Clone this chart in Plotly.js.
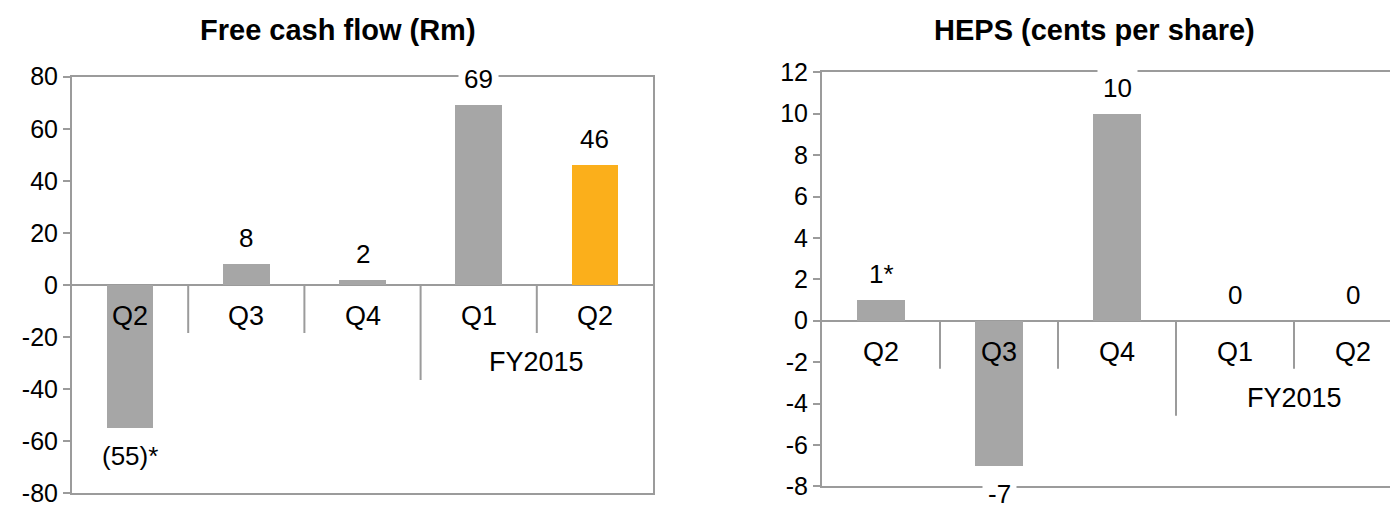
<!DOCTYPE html>
<html>
<head>
<meta charset="utf-8">
<script src="https://cdn.plot.ly/plotly-3.0.1.min.js"></script>
<style>
  html, body { margin: 0; padding: 0; overflow: hidden; background: #fff; }
  #chart { width: 1420px; height: 530px; }
</style>
</head>
<body>
<div id="chart"></div>
<script>
// ---- data ----
const quarters = ['Q2', 'Q3', 'Q4', 'Q1', 'Q2'];
const fiscalYears = ['', '', '', 'FY2015', 'FY2015'];
const fcfValues = [-55, 8, 2, 69, 46];
const fcfLabels = ['(55)*', '8', '2', '69', '46'];
const hepsValues = [1, -7, 10, 0, 0];
const hepsLabels = ['1*', '-7', '10', '0', '0'];
const fcfTicks = [-80, -60, -40, -20, 0, 20, 40, 60, 80];
const hepsTicks = [-8, -6, -4, -2, 0, 2, 4, 6, 8, 10, 12];
const fcfTitle = 'Free cash flow (Rm)';
const hepsTitle = 'HEPS (cents per share)';

// ---- styles ----
const W = 1420, H = 530;
const FONT = 'Liberation Sans, Arial, sans-serif';
const GREY_BAR = '#A6A6A6';
const ORANGE = '#FBAF1B';
const LINE = '#9B9B9B';
const idx = quarters.map((q, i) => i);
const fromTop = px => (H - px) / H;

function barTrace(values, colors, xa, ya) {
  return {
    type: 'bar', x: idx, y: values, width: 0.4,
    marker: { color: colors, line: { width: 0 } },
    xaxis: xa, yaxis: ya, hoverinfo: 'skip', showlegend: false
  };
}

const fcfColors = fcfValues.map((v, i) => i === fcfValues.length - 1 ? ORANGE : GREY_BAR);
const hepsColors = hepsValues.map(() => GREY_BAR);

const data = [
  barTrace(fcfValues, fcfColors, 'x', 'y'),
  barTrace(hepsValues, hepsColors, 'x2', 'y2')
];

function yAxis(ticks, domain, anchor) {
  const lo = ticks[0], hi = ticks[ticks.length - 1];
  return {
    domain: domain, anchor: anchor,
    range: [lo, hi],
    tickmode: 'array', tickvals: ticks, ticktext: ticks.map(String),
    ticks: 'outside', ticklen: 7, tickwidth: 2, tickcolor: LINE,
    showline: true, mirror: true, linecolor: LINE, linewidth: 2,
    showgrid: false, zeroline: true, zerolinecolor: LINE, zerolinewidth: 2,
    tickfont: { family: FONT, size: 25, color: '#000' }, fixedrange: true,
    automargin: false
  };
}
function xAxis(domain, anchor) {
  return {
    domain: domain, anchor: anchor, range: [-0.5, quarters.length - 0.5],
    showline: true, mirror: true, linecolor: LINE, linewidth: 2,
    showgrid: false, zeroline: false, showticklabels: false, ticks: '', fixedrange: true
  };
}

const annotations = [];
const shapes = [];

function decorate(values, labels, xr, yr) {
  values.forEach((v, i) => {
    annotations.push({
      xref: xr, yref: yr, x: i, y: v, text: labels[i], showarrow: false,
      yanchor: 'middle', yshift: v >= 0 ? 26 : -28,
      font: { family: FONT, size: 26, color: '#000' },
      bgcolor: '#fff', borderpad: 5
    });
    annotations.push({
      xref: xr, yref: yr, x: i, y: 0, text: quarters[i], showarrow: false,
      yanchor: 'middle', yshift: -31,
      font: { family: FONT, size: 27, color: '#000' }
    });
  });
  // separators between categories
  for (let i = 0; i < quarters.length - 1; i++) {
    const longSep = fiscalYears[i] !== fiscalYears[i + 1];
    shapes.push({
      type: 'line', xref: xr, yref: yr, x0: i + 0.5, x1: i + 0.5,
      ysizemode: 'pixel', yanchor: 0, y0: 0, y1: longSep ? -95 : -48,
      line: { color: LINE, width: 2 }
    });
  }
  // fiscal year group labels
  const groups = [...new Set(fiscalYears.filter(g => g))];
  groups.forEach(g => {
    const members = idx.filter(i => fiscalYears[i] === g);
    const mid = (members[0] + members[members.length - 1]) / 2;
    annotations.push({
      xref: xr, yref: yr, x: mid, y: 0, text: g, showarrow: false,
      yanchor: 'middle', yshift: -77,
      font: { family: FONT, size: 27, color: '#000' }
    });
  });
}

decorate(fcfValues, fcfLabels, 'x', 'y');
decorate(hepsValues, hepsLabels, 'x2', 'y2');

annotations.push({
  xref: 'paper', yref: 'paper', x: 338 / W, y: fromTop(30), text: '<b>' + fcfTitle + '</b>',
  showarrow: false, xanchor: 'center', yanchor: 'middle',
  font: { family: FONT, size: 29, color: '#000' }
});
annotations.push({
  xref: 'paper', yref: 'paper', x: 1094 / W, y: fromTop(30), text: '<b>' + hepsTitle + '</b>',
  showarrow: false, xanchor: 'center', yanchor: 'middle',
  font: { family: FONT, size: 29, color: '#000' }
});

const layout = {
  width: W, height: H,
  margin: { l: 0, r: 0, t: 0, b: 0 },
  paper_bgcolor: '#fff', plot_bgcolor: '#fff',
  font: { family: FONT, color: '#000' },
  bargap: 0,
  xaxis: xAxis([72 / W, 653 / W], 'y'),
  yaxis: yAxis(fcfTicks, [fromTop(493.3), fromTop(76.7)], 'x'),
  xaxis2: xAxis([822 / W, 1412 / W], 'y2'),
  yaxis2: yAxis(hepsTicks, [fromTop(486.3), fromTop(72.3)], 'x2'),
  annotations: annotations,
  shapes: shapes
};

Plotly.newPlot('chart', data, layout, { staticPlot: true, displayModeBar: false });
</script>
</body>
</html>
